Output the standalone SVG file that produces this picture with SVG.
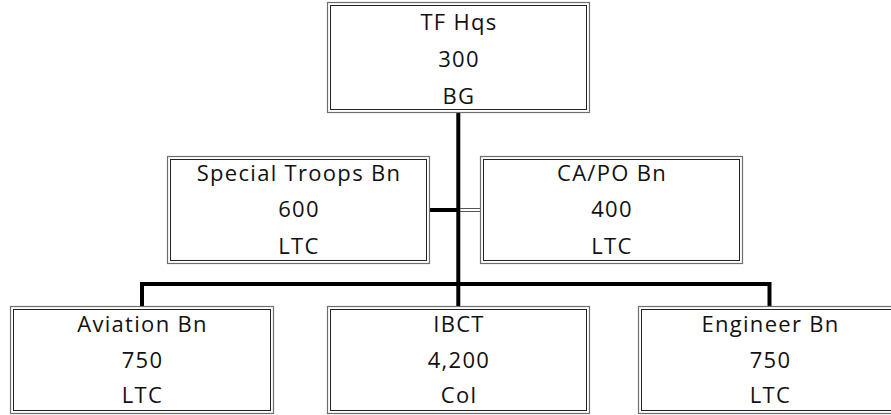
<svg xmlns="http://www.w3.org/2000/svg" width="891" height="415" viewBox="0 0 891 415">
<style>
.o{fill:#fff;stroke:#6e6e6e;stroke-width:1.2}
.i{fill:none;stroke:#222;stroke-width:1}
.t{font-family:"Open Sans","Noto Sans",sans-serif;font-size:22px;letter-spacing:1.3px;fill:#111;text-anchor:middle}
.c{stroke:#000;stroke-width:4;fill:none}
.d{stroke:#555;stroke-width:1;fill:none}
</style>
<rect width="891" height="415" fill="#fff"/>
<g id="connectors">
<path class="c" d="M458.3,113 V307"/>
<path class="c" d="M142,307 V284 H769.5 V307"/>
<path class="c" d="M429,210 H457"/>
<path class="d" d="M460,208.5 H481 M460,211.5 H481"/>
</g>
<g id="tf-hqs">
<rect class="o" x="327.5" y="2.5" width="262" height="110"/>
<rect class="i" x="330.5" y="5.5" width="256" height="104"/>
<text class="t" x="459" y="30">TF Hqs</text>
<text class="t" x="459" y="67">300</text>
<text class="t" x="459" y="104">BG</text>
</g>
<g id="special-troops">
<rect class="o" x="167.5" y="156.5" width="262" height="107"/>
<rect class="i" x="170.5" y="159.5" width="256" height="101"/>
<text class="t" x="299" y="181">Special Troops Bn</text>
<text class="t" x="299" y="217">600</text>
<text class="t" x="299" y="254">LTC</text>
</g>
<g id="capo">
<rect class="o" x="480.5" y="156.5" width="262" height="107"/>
<rect class="i" x="483.5" y="159.5" width="256" height="101"/>
<text class="t" x="612" y="181">CA/PO Bn</text>
<text class="t" x="612" y="217">400</text>
<text class="t" x="612" y="254">LTC</text>
</g>
<g id="aviation">
<rect class="o" x="10.5" y="306.5" width="263" height="107"/>
<rect class="i" x="13.5" y="309.5" width="257" height="101"/>
<text class="t" x="142.5" y="332">Aviation Bn</text>
<text class="t" x="142.5" y="368">750</text>
<text class="t" x="142.5" y="403">LTC</text>
</g>
<g id="ibct">
<rect class="o" x="327.5" y="306.5" width="262" height="107"/>
<rect class="i" x="330.5" y="309.5" width="256" height="101"/>
<text class="t" x="459" y="332">IBCT</text>
<text class="t" x="459" y="368">4,200</text>
<text class="t" x="459" y="403">Col</text>
</g>
<g id="engineer">
<rect class="o" x="638.5" y="306.5" width="263" height="107"/>
<rect class="i" x="641.5" y="309.5" width="257" height="101"/>
<text class="t" x="770.5" y="332">Engineer Bn</text>
<text class="t" x="770.5" y="368">750</text>
<text class="t" x="770.5" y="403">LTC</text>
</g>
</svg>
